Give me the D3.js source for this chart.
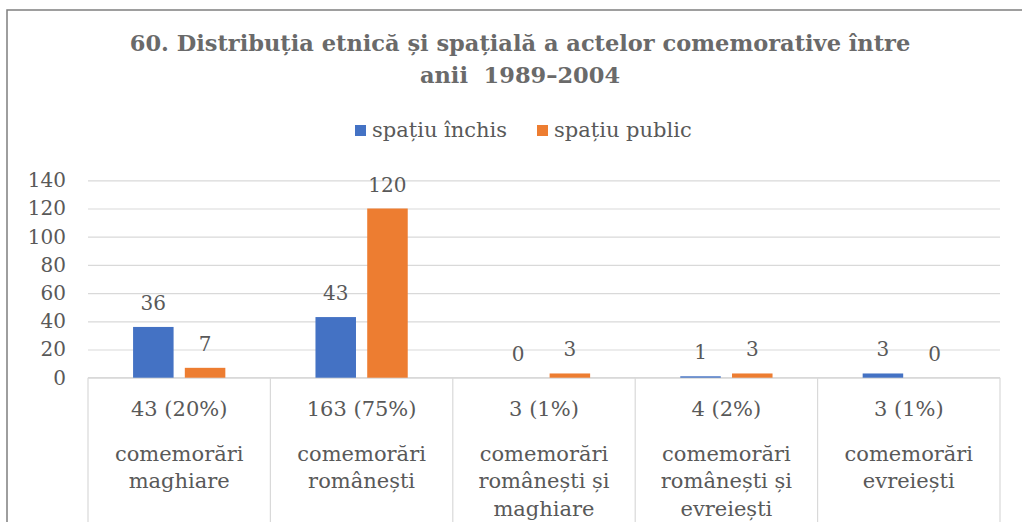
<!DOCTYPE html>
<html>
<head>
<meta charset="utf-8">
<script src="https://cdn.jsdelivr.net/npm/d3@7"></script>
<style>
  html, body { margin: 0; padding: 0; background: #fff; }
  svg { display: block; }
  text { font-family: "DejaVu Serif", serif; fill: #595959; }
</style>
</head>
<body>
<svg id="chart" width="1022" height="522"></svg>
<script>
// ---- data ----
const titleLines = ["60. Distribuția etnică și spațială a actelor comemorative între", "anii  1989–2004"];
const seriesNames = ["spațiu închis", "spațiu public"];
const seriesColors = ["#4472C4", "#ED7D31"];
const categoryTotals = ["43 (20%)", "163 (75%)", "3 (1%)", "4 (2%)", "3 (1%)"];
const categoryNames = [
  ["comemorări", "maghiare"],
  ["comemorări", "românești"],
  ["comemorări", "românești și", "maghiare"],
  ["comemorări", "românești și", "evreiești"],
  ["comemorări", "evreiești"]
];
const spatiuInchis = [36, 43, 0, 1, 3];
const spatiuPublic = [7, 120, 3, 3, 0];
const yTicks = [0, 20, 40, 60, 80, 100, 120, 140];

// ---- layout ----
const svg = d3.select("#chart");
const plot = { left: 88, right: 1000, top: 180.3, bottom: 377.7 };
const values = [spatiuInchis, spatiuPublic];

// frame
svg.append("path")
  .attr("d", "M7,522 L7,10 L1022,10")
  .attr("fill", "none").attr("stroke", "#7f7f7f").attr("stroke-width", 1.5);

// title
svg.append("g").selectAll("text").data(titleLines).join("text")
  .attr("x", 520).attr("y", (d, i) => 51 + i * 32)
  .attr("text-anchor", "middle")
  .style("white-space", "pre")
  .style("font-size", "22.5px").style("font-weight", "bold")
  .style("fill", "#6a6a6a")
  .text(d => d);

// legend
const legendX = [355, 537];
const lg = svg.append("g").selectAll("g").data(seriesNames).join("g")
  .attr("transform", (d, i) => `translate(${legendX[i]},125)`);
lg.append("rect").attr("width", 11).attr("height", 11).attr("fill", (d, i) => seriesColors[i]);
lg.append("text").attr("x", 17).attr("y", 12).style("font-size", "21px").text(d => d);

// scales
const idx = d3.range(categoryTotals.length);
const x0 = d3.scaleBand().domain(idx).range([plot.left, plot.right]).padding(0);
const x1 = d3.scaleBand().domain([0, 1]).range([0, x0.bandwidth()])
  .paddingInner(0.217).paddingOuter(0.871);
const y = d3.scaleLinear().domain([0, 140]).range([plot.bottom, plot.top]);

// gridlines
const grid = svg.append("g").attr("transform", `translate(${plot.left},0)`)
  .call(d3.axisLeft(y).tickValues(yTicks).tickSize(-(plot.right - plot.left)).tickFormat(""));
grid.select(".domain").remove();
grid.selectAll("line").attr("stroke", "#d9d9d9").attr("stroke-width", 1.2);

// y tick labels
const ya = svg.append("g").attr("transform", `translate(${plot.left},0)`)
  .call(d3.axisLeft(y).tickValues(yTicks).tickSize(0).tickPadding(22));
ya.select(".domain").remove();
ya.selectAll("text").style("font-size", "20px").style("font-family", "DejaVu Serif").attr("fill", "#595959");

// category box lines
const catG = svg.append("g");
catG.append("line").attr("x1", plot.left).attr("x2", plot.right)
  .attr("y1", y(0)).attr("y2", y(0)).attr("stroke", "#d9d9d9").attr("stroke-width", 1.2);
const borders = idx.map(i => x0(i)).concat([x0(idx[idx.length - 1]) + x0.bandwidth()]);
catG.selectAll("line.b").data(borders).join("line").attr("class", "b")
  .attr("x1", d => d).attr("x2", d => d).attr("y1", y(0)).attr("y2", 540)
  .attr("stroke", "#d9d9d9").attr("stroke-width", 1.2);

// bars
const cats = svg.append("g").selectAll("g").data(idx).join("g")
  .attr("transform", i => `translate(${x0(i)},0)`);
cats.selectAll("rect").data(i => values.map((s, k) => ({ k, v: s[i] }))).join("rect")
  .attr("x", d => x1(d.k)).attr("width", x1.bandwidth())
  .attr("y", d => y(d.v)).attr("height", d => y(0) - y(d.v))
  .attr("fill", d => seriesColors[d.k]);
cats.selectAll("text.v").data(i => values.map((s, k) => ({ k, v: s[i] }))).join("text")
  .attr("class", "v")
  .attr("x", d => x1(d.k) + x1.bandwidth() / 2).attr("y", d => y(d.v) - 17)
  .attr("text-anchor", "middle").style("font-size", "20px").text(d => d.v);

// category labels
cats.append("text").attr("x", x0.bandwidth() / 2).attr("y", 415.7)
  .attr("text-anchor", "middle").style("font-size", "21px").text(i => categoryTotals[i]);
cats.each(function(i) {
  d3.select(this).selectAll("text.n").data(categoryNames[i]).join("text").attr("class", "n")
    .attr("x", x0.bandwidth() / 2).attr("y", (d, j) => 460.7 + j * 27.7)
    .attr("text-anchor", "middle").style("font-size", "21px").text(d => d);
});
</script>
</body>
</html>
